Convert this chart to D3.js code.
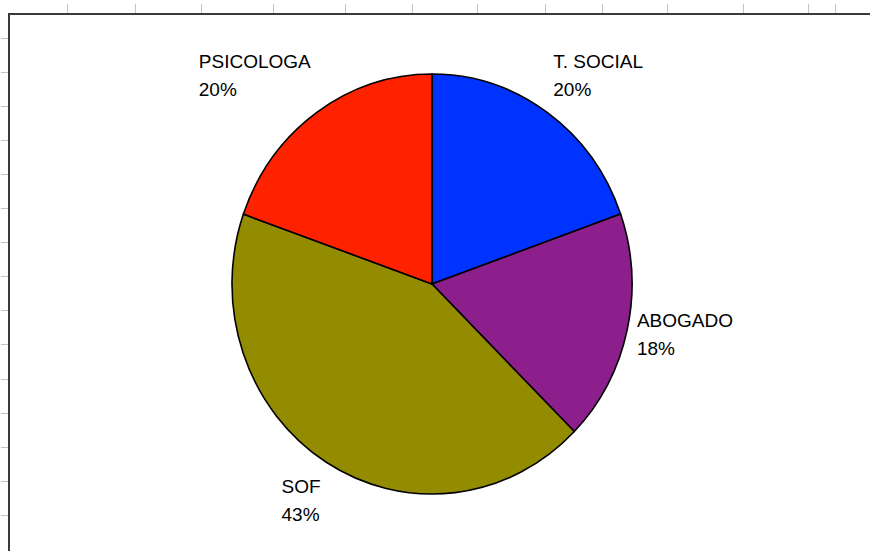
<!DOCTYPE html>
<html>
<head>
<meta charset="utf-8">
<script src="https://cdn.jsdelivr.net/npm/d3@7"></script>
<style>
  html, body { margin: 0; padding: 0; background: #fff; }
  svg { display: block; }
</style>
</head>
<body>
<svg id="chart" width="870" height="551"></svg>
<script>
// ---- data ----
const categories = ["T. SOCIAL", "ABOGADO", "SOF", "PSICOLOGA"];
const values = [19.6, 17.8, 43.0, 19.6];
const percentLabels = ["20%", "18%", "43%", "20%"];
const colors = ["#0033ff", "#8c1f8c", "#938c00", "#ff2200"];

// background spreadsheet grid marks (decorative)
const gridCols = [67, 135, 201, 273, 345, 412, 477, 545, 602, 667, 743, 808, 835];
const gridRows = [38, 72, 106, 140, 174, 208, 242, 276, 310, 344, 379, 413, 447, 481, 515];

const svg = d3.select("#chart");
const W = 870, H = 551;

// frame & grid ticks
svg.append("g").selectAll("line").data(gridCols).join("line")
  .attr("x1", d => d + 0.5).attr("x2", d => d + 0.5)
  .attr("y1", 4).attr("y2", 14)
  .attr("stroke", "#c4c4c4").attr("stroke-width", 1);
svg.append("g").selectAll("line").data(gridRows).join("line")
  .attr("y1", d => d + 0.5).attr("y2", d => d + 0.5)
  .attr("x1", 1).attr("x2", 9)
  .attr("stroke", "#c4c4c4").attr("stroke-width", 1);
svg.append("line").attr("x1", 8).attr("x2", W).attr("y1", 14).attr("y2", 14)
  .attr("stroke", "#3a3a3a").attr("stroke-width", 2);
svg.append("line").attr("x1", 9).attr("x2", 9).attr("y1", 13).attr("y2", H)
  .attr("stroke", "#3a3a3a").attr("stroke-width", 2);

// pie
const cx = 432, cy = 284, R = 200, yScale = 1.05;
const pie = d3.pie().sort(null).value(d => d.v);
const data = categories.map((c, i) => ({ c, v: values[i], p: percentLabels[i], col: colors[i] }));
const arcs = pie(data);
const arc = d3.arc().innerRadius(0).outerRadius(R);

const g = svg.append("g").attr("transform", `translate(${cx},${cy}) scale(1,${yScale})`);
g.selectAll("path").data(arcs).join("path")
  .attr("d", arc)
  .attr("fill", d => d.data.col)
  .attr("stroke", "#000")
  .attr("stroke-width", 1.6)
  .attr("vector-effect", "non-scaling-stroke")
  .attr("stroke-linejoin", "round");

// labels: anchored outside the pie along each slice's mid angle
const labelRx = 210, labelRy = 230;
const fontSize = 19, lineGap = 28;
const capH = 14;
const lg = svg.append("g").attr("transform", `translate(${cx},${cy})`);
arcs.forEach(d => {
  const a = (d.startAngle + d.endAngle) / 2;
  const s = Math.sin(a), c = Math.cos(a);
  const px = labelRx * s, py = -labelRy * c;
  const t = lg.append("text")
    .attr("font-family", "'Liberation Sans', Arial, sans-serif")
    .attr("font-size", fontSize)
    .attr("fill", "#000");
  const l1 = t.append("tspan").text(d.data.c);
  const l2 = t.append("tspan").text(d.data.p);
  const w = Math.max(l1.node().getComputedTextLength(), l2.node().getComputedTextLength());
  const h = capH + lineGap;
  const fy = Math.sign(c) * Math.max(0, Math.min(1, (Math.abs(c) - 0.3) / 0.4));
  const left = s >= 0 ? px : px - w;
  const centerY = py - fy * h / 2;
  const top = centerY - h / 2;
  l1.attr("x", left).attr("y", top + capH);
  l2.attr("x", left).attr("y", top + capH + lineGap);
});
</script>
</body>
</html>
